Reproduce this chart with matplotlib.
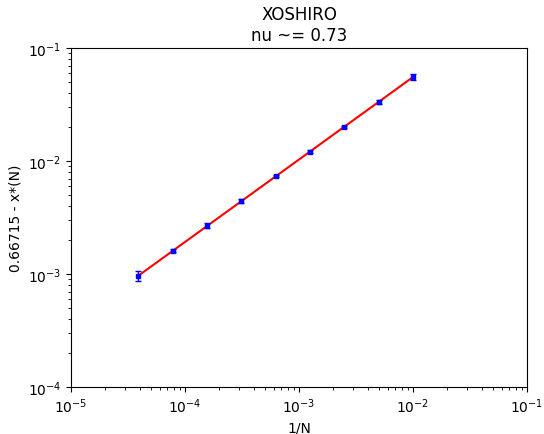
import numpy as np
import matplotlib
matplotlib.use("Agg")
import matplotlib.pyplot as plt

# system sizes and measured values
N = [25600, 12800, 6400, 3200, 1600, 800, 400, 200, 100]
delta = [0.00096, 0.00160, 0.00268, 0.00442, 0.00738, 0.0121, 0.0200, 0.0333, 0.0553]
delta_err = [0.00010, 0.00005, 0.00012, 0.00018, 0.00015, 0.0003, 0.0005, 0.0012, 0.0030]


def main():
    inv_n = 1.0 / np.array(N, dtype=float)
    y = np.array(delta)

    # power-law fit in log-log space
    slope, intercept = np.polyfit(np.log10(inv_n), np.log10(y), 1)
    x_fit = np.array([inv_n.min(), inv_n.max()])
    y_fit = 10 ** (intercept + slope * np.log10(x_fit))

    fig = plt.figure(figsize=(5.44, 4.35), dpi=100)
    ax = fig.add_axes([71 / 544, 47 / 435, 456 / 544, 339 / 435])

    ax.plot(x_fit, y_fit, color="red", zorder=1)
    ax.errorbar(inv_n, y, yerr=delta_err, fmt="s", color="blue",
                markersize=3.5, capsize=2, elinewidth=1, zorder=2)

    ax.set_xscale("log")
    ax.set_yscale("log")
    ax.set_xlim(1e-5, 1e-1)
    ax.set_ylim(1e-4, 1e-1)
    ax.set_xlabel("1/N")
    ax.set_ylabel("0.66715 - x*(N)")
    ax.set_title("XOSHIRO\nnu ~= 0.73")

    fig.savefig("out.png", dpi=100)


if __name__ == '__main__':
    main()
